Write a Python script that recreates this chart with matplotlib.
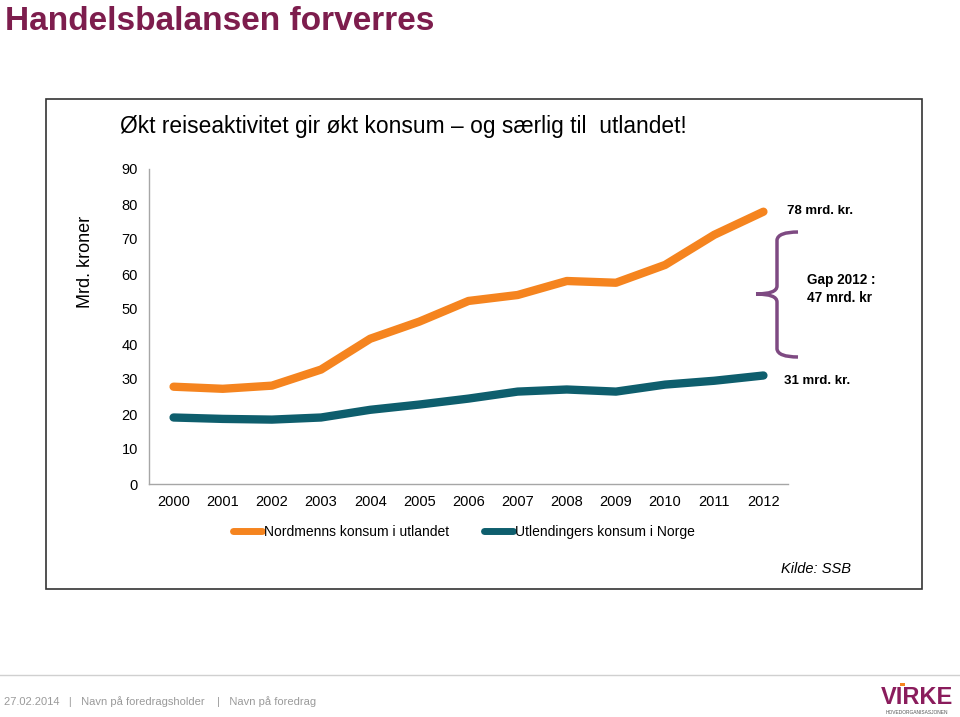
import matplotlib.pyplot as plt
from matplotlib.path import Path
from matplotlib.patches import PathPatch, Rectangle

plt.rcParams['font.family'] = ['Liberation Sans', 'DejaVu Sans']

# Data (mrd. kroner)
years = [2000, 2001, 2002, 2003, 2004, 2005, 2006, 2007, 2008, 2009, 2010, 2011, 2012]
nordmenn = [27.8, 27.2, 28.1, 32.7, 41.5, 46.4, 52.3, 54.0, 58.0, 57.5, 62.6, 71.2, 77.8]
utlendinger = [19.0, 18.6, 18.4, 19.0, 21.2, 22.7, 24.4, 26.4, 27.0, 26.4, 28.4, 29.5, 31.0]
series_names = ["Nordmenns konsum i utlandet", "Utlendingers konsum i Norge"]
yticks = [0, 10, 20, 30, 40, 50, 60, 70, 80, 90]

ORANGE = '#F5841F'
TEAL = '#0E5E6D'
PLUM = '#7D1D4D'
BRACE = '#7E4A82'

W, H = 960, 717
fig = plt.figure(figsize=(W / 100, H / 100), dpi=100)

# main axes
ax = fig.add_axes([149 / W, 1 - 484 / H, (788 - 149) / W, (484 - 169) / H])
ax.patch.set_alpha(0)
x = list(range(len(years)))
ax.plot(x, nordmenn, color=ORANGE, lw=6, solid_capstyle='round', label=series_names[0])
ax.plot(x, utlendinger, color=TEAL, lw=6, solid_capstyle='round', label=series_names[1])
ax.set_xlim(-0.5, len(years) - 0.5)
ax.set_ylim(0, 90)
ax.set_yticks(yticks)
ax.set_xticks(x)
ax.set_xticklabels([str(y) for y in years])
ax.tick_params(length=0, labelsize=10.5)
ax.tick_params(axis='y', pad=8)
ax.tick_params(axis='x', pad=8)
for s in ['top', 'right']:
    ax.spines[s].set_visible(False)
for s in ['left', 'bottom']:
    ax.spines[s].set_color('#A6A6A6')
    ax.spines[s].set_linewidth(1)

leg = ax.legend(loc='upper left', bbox_to_anchor=(0.112, -0.09), ncol=2, frameon=False,
                fontsize=10, handlelength=2.1, handletextpad=0.1, columnspacing=2.55)
for h in leg.get_lines():
    h.set_linewidth(5)

# overlay in pixel coordinates for decorations, drawn on top
ov = fig.add_axes([0, 0, 1, 1])
ov.set_xlim(0, W)
ov.set_ylim(H, 0)
ov.axis('off')
ov.set_zorder(3)

ov.text(5, 21, "Handelsbalansen forverres", color=PLUM, fontsize=24,
        fontweight='bold', va='center', ha='left')

# frame around chart
ov.add_patch(Rectangle((46, 99), 876, 490, fill=False, edgecolor='#333333', lw=1.2))
ov.text(120, 126, "Økt reiseaktivitet gir økt konsum \u2013 og særlig til  utlandet!",
        fontsize=16.4, va='center', ha='left', color='black')

ov.text(86, 262, "Mrd. kroner", rotation=90, fontsize=13, ha='center', va='center')

# annotations
ov.text(787, 211, "78 mrd. kr.", fontsize=9.5, fontweight='bold', va='center', ha='left')
ov.text(784, 381, "31 mrd. kr.", fontsize=9.5, fontweight='bold', va='center', ha='left')
ov.text(807, 289, "Gap 2012 :\n47 mrd. kr", fontsize=9.8, fontweight='bold', va='center',
        ha='left', linespacing=1.4)

verts = [(798, 232), (778, 232), (777, 240), (777, 286), (777, 294), (756, 294),
         (756, 294), (777, 294), (777, 302), (777, 349), (778, 357), (798, 357)]
codes = [Path.MOVETO, Path.CURVE3, Path.CURVE3, Path.LINETO, Path.CURVE3, Path.CURVE3,
         Path.MOVETO, Path.CURVE3, Path.CURVE3, Path.LINETO, Path.CURVE3, Path.CURVE3]
ov.add_patch(PathPatch(Path(verts, codes), fill=False, edgecolor=BRACE, lw=2.5))

ov.text(781, 569, "Kilde: SSB", fontsize=10.5, style='italic', va='center', ha='left')

# footer
ov.plot([0, W], [675, 675], color='#D0D0D0', lw=1)
ov.text(4, 702, "27.02.2014   |   Navn på foredragsholder    |   Navn på foredrag",
        fontsize=8, color='#9A9A9A', va='center', ha='left')
ov.text(917, 698, "VIRKE", fontsize=17, fontweight='bold', color='#8A1C5C',
        va='center', ha='center', fontstretch='condensed')
ov.add_patch(Rectangle((900, 683), 5, 3, color=ORANGE, lw=0))
ov.text(917, 712, "HOVEDORGANISASJONEN", fontsize=3.5, color='#555555',
        va='center', ha='center')

fig.savefig('out.png', dpi=100)
